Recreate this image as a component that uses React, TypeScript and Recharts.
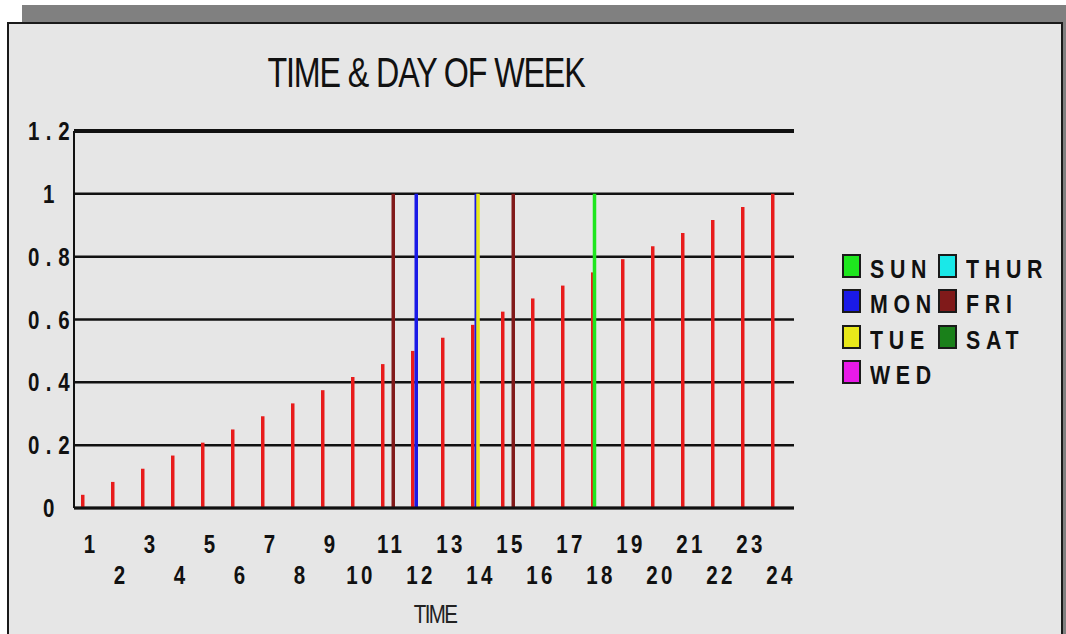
import React from "react";
import {
  Bar,
  BarChart,
  CartesianGrid,
  Legend,
  ReferenceLine,
  XAxis,
  YAxis,
} from "recharts";

const hours = [
  "1", "2", "3", "4", "5", "6", "7", "8", "9", "10", "11", "12",
  "13", "14", "15", "16", "17", "18", "19", "20", "21", "22", "23", "24",
];

// red "time" bars
const timeShare = [
  0.042, 0.083, 0.125, 0.167, 0.208, 0.25, 0.292, 0.333, 0.375, 0.417, 0.458, 0.5,
  0.542, 0.583, 0.625, 0.667, 0.708, 0.75, 0.792, 0.833, 0.875, 0.917, 0.958, 1,
];

const sun = [null, null, null, null, null, null, null, null, null, null, null, null,
  null, null, null, null, null, 1, null, null, null, null, null, null];
const mon = [null, null, null, null, null, null, null, null, null, null, null, 1,
  null, 1, null, null, null, null, null, null, null, null, null, null];
const tue = [null, null, null, null, null, null, null, null, null, null, null, null,
  null, 1, null, null, null, null, null, null, null, null, null, null];
const wed = [null, null, null, null, null, null, null, null, null, null, null, null,
  null, null, null, null, null, null, null, null, null, null, null, null];
const thur = [null, null, null, null, null, null, null, null, null, null, null, null,
  null, null, null, null, null, null, null, null, null, null, null, null];
const fri = [null, null, null, null, null, null, null, null, null, null, 1, null,
  null, null, 1, null, null, null, null, null, null, null, null, null];
const sat = [null, null, null, null, null, null, null, null, null, null, null, null,
  null, null, null, null, null, null, null, null, null, null, null, null];

const yTicks = [0, 0.2, 0.4, 0.6, 0.8, 1, 1.2];

const days = [
  { key: "sun", name: "SUN", color: "#1ee61e" },
  { key: "mon", name: "MON", color: "#1a1ae6" },
  { key: "tue", name: "TUE", color: "#e8e81a" },
  { key: "wed", name: "WED", color: "#e81ae8" },
  { key: "thur", name: "THUR", color: "#1ae8e8" },
  { key: "fri", name: "FRI", color: "#801a1a" },
  { key: "sat", name: "SAT", color: "#1a801a" },
];

const data = hours.map((hour, i) => ({
  hour,
  time: timeShare[i],
  sun: sun[i],
  mon: mon[i],
  tue: tue[i],
  wed: wed[i],
  thur: thur[i],
  fri: fri[i],
  sat: sat[i],
}));

// no narrow font installed, so Liberation Sans gets squeezed horizontally
const FONT = "'Liberation Sans', Arial, sans-serif";
const NARROW = 0.82;
const INK = "#111";

function XTick({ x, y, payload, index }: any) {
  const lower = index % 2 === 1;
  return (
    <g transform={`translate(${x + 2},${y + (lower ? 68 : 37)})`}>
      <text
        transform={`scale(${NARROW},1)`}
        textAnchor="middle"
        fontFamily={FONT}
        fontWeight="bold"
        fontSize={25}
        letterSpacing={4}
        fill={INK}
      >
        {payload.value}
      </text>
    </g>
  );
}

function YTick({ x, y, payload }: any) {
  return (
    <g transform={`translate(${x - 14},${y})`}>
      <text
        transform={`scale(${NARROW},1)`}
        dy="0.36em"
        textAnchor="middle"
        fontFamily={FONT}
        fontWeight="bold"
        fontSize={25}
        letterSpacing={8}
        fill={INK}
      >
        {String(payload.value)}
      </text>
    </g>
  );
}

function DayLegend({ payload }: any) {
  const items = days
    .map((d) => (payload || []).find((p: any) => p.dataKey === d.key))
    .filter(Boolean);
  return (
    <div
      style={{
        display: "grid",
        gridTemplateRows: "repeat(4, 35.5px)",
        gridAutoFlow: "column",
        gridAutoColumns: "96px",
        fontFamily: FONT,
      }}
    >
      {items.map((p: any) => (
        <div key={p.value} style={{ display: "flex", alignItems: "center", whiteSpace: "nowrap" }}>
          <span
            style={{
              display: "inline-block",
              flexShrink: 0,
              width: 19,
              height: 24,
              boxSizing: "border-box",
              border: "2px solid #1a1a1a",
              background: p.color,
              marginRight: 9,
            }}
          />
          <span
            style={{
              display: "inline-block",
              fontSize: 26,
              fontWeight: "bold",
              letterSpacing: 7,
              color: INK,
              lineHeight: 1,
              marginTop: 6,
              transform: `scaleX(${NARROW})`,
              transformOrigin: "left center",
            }}
          >
            {p.value}
          </span>
        </div>
      ))}
    </div>
  );
}

export default function App() {
  return (
    <div
      style={{
        position: "absolute",
        left: 0,
        top: 0,
        width: 1066,
        height: 634,
        overflow: "hidden",
        background: "#fff",
      }}
    >
      <div
        style={{
          position: "absolute",
          left: 22,
          top: 5,
          width: 1044,
          height: 640,
          background: "#808080",
        }}
      />
      <div
        style={{
          position: "absolute",
          left: 7,
          top: 22,
          width: 1056,
          height: 640,
          boxSizing: "border-box",
          background: "#e6e6e6",
          border: "2px solid #1a1a1a",
        }}
      />
      <div
        style={{
          position: "absolute",
          left: 126,
          width: 600,
          top: 51,
          textAlign: "center",
          fontFamily: FONT,
          fontSize: 43,
          letterSpacing: -1.5,
          lineHeight: 1,
          color: INK,
          transform: "scaleX(0.75)",
        }}
      >
        TIME &amp; DAY OF WEEK
      </div>
      <div
        style={{
          position: "absolute",
          left: 335,
          width: 200,
          top: 602,
          textAlign: "center",
          fontFamily: FONT,
          fontSize: 25,
          letterSpacing: -2,
          lineHeight: 1,
          color: "#222",
          transform: `scaleX(${NARROW})`,
        }}
      >
        TIME
      </div>
      <div style={{ position: "absolute", left: 0, top: 0 }}>
        <BarChart
          width={1066}
          height={634}
          data={data}
          margin={{ top: 131, right: 272, bottom: 26, left: 14 }}
          barSize={3.5}
          barGap={-1.75}
        >
          <CartesianGrid vertical={false} stroke={INK} strokeWidth={2.5} />
          <XAxis
            dataKey="hour"
            interval={0}
            height={100}
            tickLine={false}
            axisLine={{ stroke: INK, strokeWidth: 3 }}
            tick={<XTick />}
          />
          <YAxis
            type="number"
            domain={[0, 1.2]}
            ticks={yTicks}
            width={60}
            tickLine={false}
            axisLine={{ stroke: INK, strokeWidth: 2 }}
            tick={<YTick />}
          />
          <YAxis
            yAxisId="right"
            orientation="right"
            type="number"
            domain={[0, 1.2]}
            width={0}
            tick={false}
            tickLine={false}
            axisLine={{ stroke: "#333", strokeWidth: 1.5 }}
          />
          <ReferenceLine y={1.2} stroke={INK} strokeWidth={4} />
          <Bar dataKey="time" name="TIME" fill="#e81c1c" legendType="none" isAnimationActive={false} />
          {days.map((d) => (
            <Bar
              key={d.key}
              dataKey={d.key}
              name={d.name}
              fill={d.color}
              isAnimationActive={false}
            />
          ))}
          <Legend
            layout="horizontal"
            verticalAlign="middle"
            align="center"
            content={<DayLegend />}
            wrapperStyle={{ left: 842, top: 248, width: 220, height: 150 }}
          />
        </BarChart>
      </div>
    </div>
  );
}
